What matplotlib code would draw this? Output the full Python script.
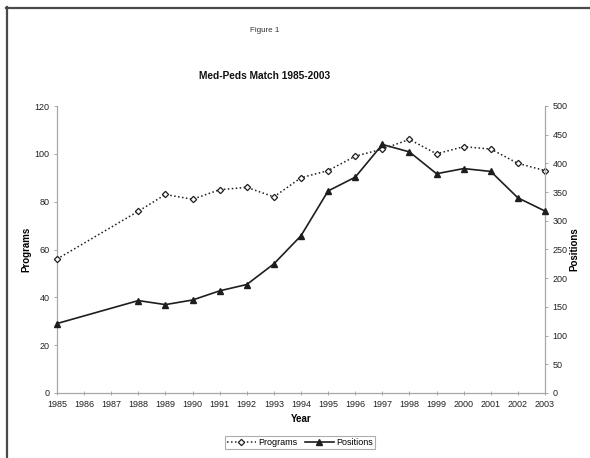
import matplotlib
matplotlib.use("Agg")
import matplotlib.pyplot as plt
from matplotlib.lines import Line2D

plt.rcParams['font.family'] = ['Liberation Sans', 'DejaVu Sans']

years = [1985, 1988, 1989, 1990, 1991, 1992, 1993, 1994, 1995, 1996,
         1997, 1998, 1999, 2000, 2001, 2002, 2003]
programs = [56, 76, 83, 81, 85, 86, 82, 90, 93, 99,
            102, 106, 100, 103, 102, 96, 93]
positions = [121, 161, 154, 162, 178, 189, 225, 274, 352, 376,
             433, 420, 382, 391, 386, 340, 317]
year_ticks = list(range(1985, 2004))

W, H = 590, 458
fig = plt.figure(figsize=(W / 100, H / 100), dpi=100)

# page frame (top and left edges)
fig.add_artist(Line2D([6 / W, 1.0], [1 - 7.5 / H, 1 - 7.5 / H], transform=fig.transFigure,
                      color='#4a4a4a', lw=1.6))
fig.add_artist(Line2D([6.5 / W, 6.5 / W], [0.0, 1 - 7 / H], transform=fig.transFigure,
                      color='#4a4a4a', lw=1.6))

ax = fig.add_axes([57 / W, 1 - 393 / H, (545 - 57) / W, (393 - 106) / H])
ax2 = ax.twinx()

axis_col = '#a8a8a8'
line_col = '#1e1e1e'

ax.plot(years, programs, linestyle=(0, (1, 1.6)), color=line_col, lw=1.1,
        marker='D', markersize=3.2, markerfacecolor='white',
        markeredgecolor=line_col, markeredgewidth=0.9, label='Programs',
        clip_on=False, zorder=3)
ax2.plot(years, positions, linestyle='-', color=line_col, lw=1.2,
         marker='^', markersize=4.2, markerfacecolor=line_col,
         markeredgecolor=line_col, label='Positions', clip_on=False, zorder=3)

ax.set_xlim(1985, 2003)
ax.set_ylim(0, 120)
ax2.set_ylim(0, 500)
ax.set_xticks(year_ticks)
ax.set_yticks(range(0, 121, 20))
ax2.set_yticks(range(0, 501, 50))

for a in (ax, ax2):
    for s in a.spines.values():
        s.set_visible(False)
    a.tick_params(colors=axis_col, labelcolor='#222222', labelsize=6.5,
                  length=2.5, width=0.7, pad=3)
ax.spines['left'].set_visible(True)
ax.spines['bottom'].set_visible(True)
ax2.spines['right'].set_visible(True)
for s in (ax.spines['left'], ax.spines['bottom'], ax2.spines['right']):
    s.set_color(axis_col)
    s.set_linewidth(0.9)
ax.tick_params(axis='x', direction='inout', length=3.5)

ax.set_ylabel('Programs', fontsize=7, fontweight='bold', labelpad=2)
ax2.set_ylabel('Positions', fontsize=7, fontweight='bold', labelpad=1)
ax.set_xlabel('Year', fontsize=7, fontweight='bold', labelpad=4)

fig.text(265 / W, 1 - 30 / H, 'Figure 1', ha='center', va='center',
         fontsize=5.8, color='#333333')
fig.text(265 / W, 1 - 76 / H, 'Med-Peds Match 1985-2003', ha='center',
         va='center', fontsize=7.3, fontweight='bold', color='#111111')

h1, l1 = ax.get_legend_handles_labels()
h2, l2 = ax2.get_legend_handles_labels()
leg = fig.legend(h1 + h2, l1 + l2, loc='center', bbox_to_anchor=(300 / W, 1 - 442.5 / H),
                 ncol=2, fontsize=6.5, frameon=True, fancybox=False,
                 handlelength=3.2, handletextpad=0.3, columnspacing=0.8,
                 borderpad=0.25)
leg.get_frame().set_edgecolor('#999999')
leg.get_frame().set_linewidth(0.8)

fig.savefig('out.png', dpi=100)
